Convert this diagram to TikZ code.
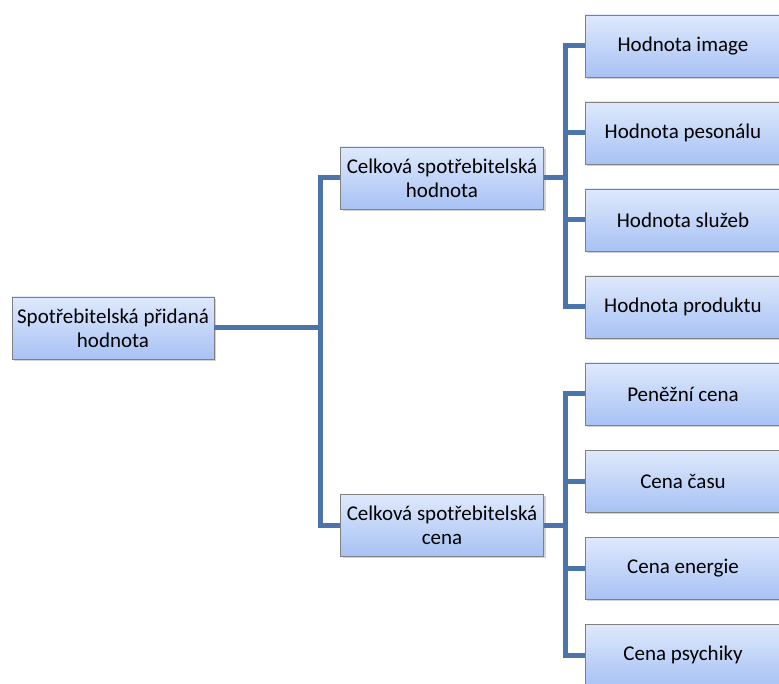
\documentclass[tikz,border=0pt]{standalone}
\usepackage{fontspec}
\setmainfont{Carlito}
\usetikzlibrary{positioning,shadows}
\definecolor{linkblue}{RGB}{74,116,170}
\definecolor{boxtop}{RGB}{222,233,252}
\definecolor{boxbot}{RGB}{168,194,244}
\definecolor{boxedge}{RGB}{128,128,128}

\begin{document}
\begin{tikzpicture}[x=1pt, y=-1pt,
    box/.style={draw=boxedge, line width=0.6pt, top color=boxtop, bottom color=boxbot,
      drop shadow={shadow xshift=2pt, shadow yshift=-2pt, opacity=0.35},
      minimum height=62pt, align=center, inner sep=2pt, font=\fontsize{21}{24}\selectfont},
    link/.style={linkblue, line width=5pt}]
  \useasboundingbox (0,0) rectangle (779,684);
  %% boxes
  \node[box, minimum width=202pt] (root) at (113,328) {Spotřebitelská přidaná\\hodnota};
  \node[box, minimum width=203pt] (value) at (442,178) {Celková spotřebitelská\\hodnota};
  \node[box, minimum width=203pt] (cost) at (442,525) {Celková spotřebitelská\\cena};
  \foreach \n/\y/\t in {v1/46/Hodnota image, v2/133/Hodnota pesonálu,
                        v3/220/Hodnota služeb, v4/307/Hodnota produktu,
                        c1/394/Peněžní cena, c2/481/Cena času,
                        c3/568/Cena energie, c4/655/Cena psychiky}
    \node[box, minimum width=196pt] (\n) at (683,\y) {\t};
  %% connectors
  \coordinate (jroot) at (320,328);
  \coordinate (jvalue) at (565,178);
  \coordinate (jcost) at (565,525);
  \draw[link] (root.east) -- (jroot);
  \draw[link] (jroot) |- (value.west);
  \draw[link] (jroot) |- (cost.west);
  \draw[link] (value.east) -- (jvalue);
  \draw[link] (cost.east) -- (jcost);
  \foreach \n in {v1,v2,v3,v4}
    \draw[link] (jvalue) |- (\n.west);
  \foreach \n in {c1,c2,c3,c4}
    \draw[link] (jcost) |- (\n.west);
\end{tikzpicture}
\end{document}
